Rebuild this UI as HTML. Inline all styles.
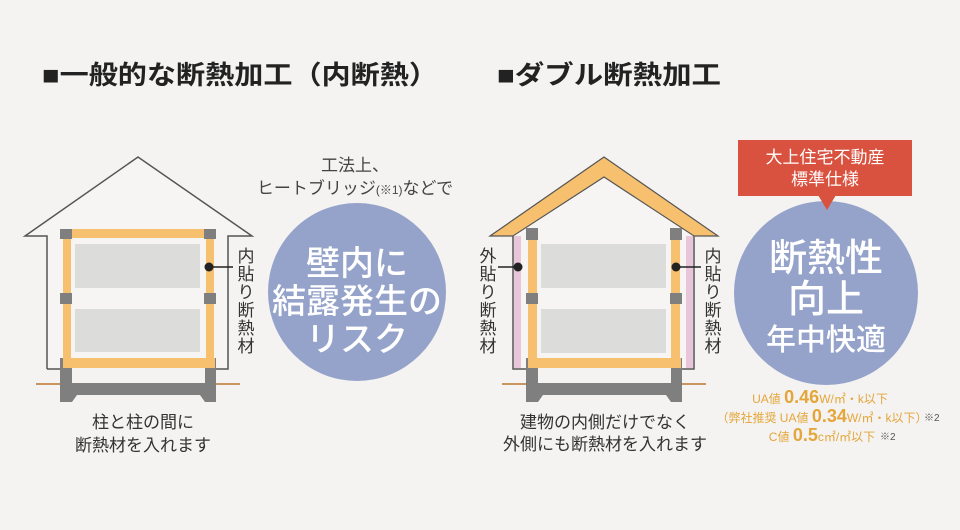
<!DOCTYPE html>
<html><head><meta charset="utf-8"><style>
html,body{margin:0;padding:0;background:#f4f3f1;}
svg{display:block;}
text{font-family:"Liberation Sans","Noto Sans CJK JP",sans-serif;}
</style></head><body>
<svg width="960" height="530" viewBox="0 0 960 530" xmlns="http://www.w3.org/2000/svg">
<rect width="960" height="530" fill="#f4f3f1"/>
<text x="42" y="84" font-size="26" font-weight="bold" fill="#222" textLength="396" lengthAdjust="spacingAndGlyphs">■一般的な断熱加工（内断熱）</text>
<text x="497" y="84" font-size="26" font-weight="bold" fill="#222" textLength="224" lengthAdjust="spacingAndGlyphs">■ダブル断熱加工</text>

<!-- LEFT HOUSE -->
<polyline points="47,369 47,236 25,236 138,157 252,236 228,236 228,369 47,369" fill="#f6f5f3" stroke="#555" stroke-width="1.5"/>
<line x1="36" y1="384" x2="240" y2="384" stroke="#c9955c" stroke-width="2"/>
<path d="M60,358 H216 V402 H205 L200,395 H77 L72,402 H60 Z" fill="#7f7f7f"/>
<rect x="72" y="368" width="133" height="15" fill="#f4f3f1"/>
<rect x="63" y="229" width="152" height="9" fill="#f7c06f"/>
<rect x="63" y="358" width="152" height="10" fill="#f7c06f"/>
<rect x="63" y="229" width="8" height="139" fill="#f7c06f"/>
<rect x="206" y="229" width="8" height="139" fill="#f7c06f"/>
<rect x="60" y="229" width="12" height="10" fill="#7f7f7f"/>
<rect x="204" y="229" width="12" height="10" fill="#7f7f7f"/>
<rect x="60" y="293" width="12" height="11" fill="#7f7f7f"/>
<rect x="204" y="293" width="12" height="11" fill="#7f7f7f"/>
<rect x="75" y="244" width="125" height="44" fill="#dcdcdb"/>
<rect x="75" y="309" width="125" height="43" fill="#dcdcdb"/>
<circle cx="209" cy="267" r="4.5" fill="#222"/>
<line x1="209" y1="267" x2="233" y2="267" stroke="#222" stroke-width="1.5"/>
<g font-size="17" fill="#333" text-anchor="middle">
<text x="246" y="262">内</text><text x="246" y="280">貼</text><text x="246" y="298">り</text><text x="246" y="316">断</text><text x="246" y="334">熱</text><text x="246" y="352">材</text>
</g>
<text x="143" y="428" font-size="17" fill="#333" text-anchor="middle">柱と柱の間に</text>
<text x="143" y="451" font-size="17" fill="#333" text-anchor="middle">断熱材を入れます</text>

<text x="355" y="171" font-size="17" fill="#444" text-anchor="middle">工法上、</text>
<text x="355" y="194" font-size="17" fill="#444" text-anchor="middle">ヒートブリッジ<tspan font-size="12">(※1)</tspan>などで</text>
<circle cx="357" cy="292" r="89" fill="#95a3cb"/>
<g font-size="34" fill="#fff" text-anchor="middle" font-weight="500">
<text x="357" y="275">壁内に</text>
<text x="357" y="313">結露発生の</text>
<text x="357" y="351">リスク</text>
</g>

<!-- RIGHT HOUSE -->
<polygon points="490,236 604,157 718,236 694,236 604,177 513,236" fill="#f7c06f" stroke="#555" stroke-width="1.2"/>
<polyline points="513,236 513,369 694,369 694,236" fill="#f6f5f3" stroke="#555" stroke-width="1.5"/>
<polygon points="514,236 604,178 693,236" fill="#f6f5f3"/>
<rect x="514" y="236" width="7" height="132" fill="#e8c5d8"/>
<rect x="686" y="236" width="7" height="132" fill="#e8c5d8"/>
<line x1="502" y1="384" x2="706" y2="384" stroke="#c9955c" stroke-width="2"/>
<path d="M526,358 H682 V402 H671 L666,395 H543 L538,402 H526 Z" fill="#7f7f7f"/>
<rect x="538" y="368" width="133" height="15" fill="#f4f3f1"/>
<rect x="528" y="358" width="153" height="10" fill="#f7c06f"/>
<rect x="528" y="229" width="9" height="139" fill="#f7c06f"/>
<rect x="671" y="229" width="9" height="139" fill="#f7c06f"/>
<rect x="526" y="228" width="12" height="12" fill="#7f7f7f"/>
<rect x="670" y="228" width="12" height="12" fill="#7f7f7f"/>
<rect x="526" y="293" width="12" height="11" fill="#7f7f7f"/>
<rect x="670" y="293" width="12" height="11" fill="#7f7f7f"/>
<rect x="541" y="244" width="125" height="44" fill="#dcdcdb"/>
<rect x="541" y="309" width="125" height="44" fill="#dcdcdb"/>
<circle cx="518" cy="267" r="4.5" fill="#222"/>
<line x1="498" y1="267" x2="518" y2="267" stroke="#222" stroke-width="1.5"/>
<circle cx="676" cy="267" r="4.5" fill="#222"/>
<line x1="676" y1="267" x2="701" y2="267" stroke="#222" stroke-width="1.5"/>
<g font-size="17" fill="#333" text-anchor="middle">
<text x="488" y="262">外</text><text x="488" y="280">貼</text><text x="488" y="298">り</text><text x="488" y="316">断</text><text x="488" y="334">熱</text><text x="488" y="352">材</text>
<text x="713" y="262">内</text><text x="713" y="280">貼</text><text x="713" y="298">り</text><text x="713" y="316">断</text><text x="713" y="334">熱</text><text x="713" y="352">材</text>
</g>
<text x="605" y="428" font-size="17" fill="#333" text-anchor="middle">建物の内側だけでなく</text>
<text x="605" y="450" font-size="17" fill="#333" text-anchor="middle">外側にも断熱材を入れます</text>

<circle cx="826" cy="293" r="92" fill="#95a3cb"/>
<rect x="738" y="140" width="174" height="56" fill="#d9513f"/>
<polygon points="818,195 836,195 827,210" fill="#d9513f"/>
<text x="825" y="163" font-size="17" fill="#fff" text-anchor="middle">大上住宅不動産</text>
<text x="825" y="185" font-size="17" fill="#fff" text-anchor="middle">標準仕様</text>
<g fill="#fff" text-anchor="middle" font-weight="500">
<text x="826" y="271" font-size="38">断熱性</text>
<text x="826" y="312" font-size="38">向上</text>
<text x="826" y="350" font-size="30">年中快適</text>
</g>
<g fill="#e4a63a" text-anchor="middle">
<text x="820" y="403" font-size="12">UA値 <tspan font-size="18" font-weight="bold">0.46</tspan>W/㎡・k以下</text>
<text x="822" y="422" font-size="12">（弊社推奨 UA値 <tspan font-size="18" font-weight="bold">0.34</tspan>W/㎡・k以下）</text>
<text x="822" y="441" font-size="12">C値 <tspan font-size="18" font-weight="bold">0.5</tspan>c㎡/㎡以下</text>
</g>
<text x="924" y="421" font-size="10" fill="#555">※2</text>
<text x="880" y="440" font-size="10" fill="#555">※2</text>
</svg>
</body></html>
